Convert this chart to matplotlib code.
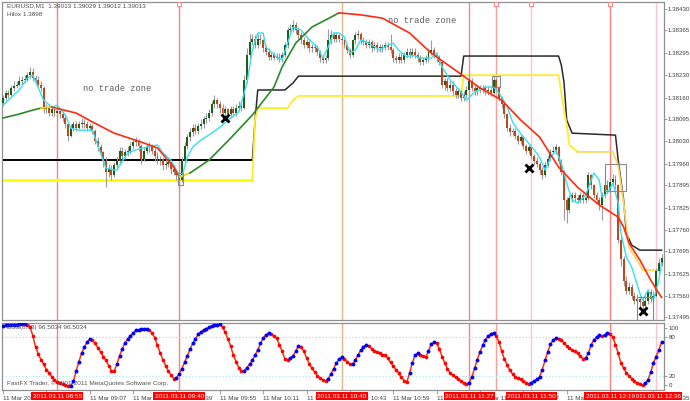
import numpy as np
import matplotlib
matplotlib.use("Agg")
import matplotlib.pyplot as plt
from matplotlib.patches import Rectangle

# ---------------- data (prices in pips above 1.3700, one bar per minute from 08:35) ----------------
PRICE_BASE = 1.37
FIRST_OPEN = 114.5
closes = [116, 117.5, 117, 119, 119.5, 120, 121, 121.5, 121.5, 123, 124, 122, 121.5, 120, 119, 112.5, 113, 111.5, 112.5, 111.5, 112,
          111, 110, 108, 104.5, 107, 108, 107, 108, 108.5, 108, 107, 107.5, 106, 103, 101, 99.5,
          97, 93.5, 94.5, 92.5, 95.5, 97, 100, 98.5, 99.5, 100, 101.5, 102.5, 102.5, 101.5, 97.5, 100, 101, 101, 100, 98.5,
          97, 97.5, 95.5, 96, 96.5, 94.5, 93.5, 92.5, 91,
          97, 101.5, 104, 105.5, 107, 106, 107.5, 108, 109.5, 110, 111.5, 114, 115.5, 114, 113, 111.5, 112.5, 111, 112.5, 111.5,
          113, 113.5, 113,
          121.5, 129, 133, 134, 132, 134, 133.5, 131, 130, 128.5, 129, 128, 128.5, 128, 129, 132, 136.5, 137, 138, 136.5,
          135, 133.5, 132, 133, 131, 131.5, 131, 130, 128, 127.5, 128, 133.5, 135, 134, 135, 134, 133.5,
          132, 130.5, 129, 133.5, 135, 135.5, 133.5, 133, 132, 133, 131, 132, 131, 131.5, 131, 132, 131.5, 130.5, 128, 127.5,
          128.5, 127.5, 129, 130, 129, 130, 129, 128, 127, 127.5, 128, 130, 130.5, 129, 128.5,
          127, 120, 121, 119, 120, 118, 117, 118, 116, 117, 118.5, 121, 119, 118, 119, 118.5, 119, 118, 118.5, 117.5,
          121.5, 119, 116, 114, 111,
          107, 105.5, 106, 104.5, 103, 104, 101.5, 100, 101, 98.5, 97, 96, 94, 92.5, 95.5, 97.5, 99.5, 100, 101, 97,
          93.5, 85, 82, 85.5, 86.5, 85.5, 85, 86.5, 85, 85.5, 92.5, 89.5, 86.5, 85, 83.5, 86.5, 89.5, 88,
          90.5, 91.5, 89.5, 73, 67, 60.5, 57.5, 58.5, 56, 54.5, 55, 54, 53, 54.5, 57, 55, 56, 63.5, 66, 67.5]
highs = [117, 118.5, 118.5, 120, 121, 121, 122.5, 122.5, 123, 124,
         125.5, 125, 123, 122.5, 121, 119.5, 114, 114, 113.5, 113,
         113, 113, 112, 111, 108.5, 108, 109, 109, 109, 110,
         109.5, 109, 108.5, 108, 106.5, 104, 102, 100, 98, 96,
         95.5, 96.5, 98.5, 101, 101, 100.5, 101.5, 102.5, 103.5, 104,
         103.5, 102, 101, 102, 102.5, 102, 101, 99.5, 98.5, 98,
         97.5, 97.5, 97, 95.5, 94.5, 93.5, 98, 102.5, 105, 107,
         108, 108, 108.5, 109.5, 110.5, 111.5, 112.5, 115, 117, 116,
         115, 114, 113.5, 113, 113.5, 113.5, 114, 115, 114.5, 123,
         131, 135.5, 135.5, 135, 135.5, 135.5, 134, 132, 131, 130,
         130, 129.5, 129.5, 130, 133, 137.5, 138.5, 139.5, 139, 137.5,
         136, 134.5, 134, 133.5, 132.5, 132.5, 132, 130.5, 129, 129,
         137, 136.5, 136, 136, 135.5, 135, 134, 132.5, 131, 134,
         136, 136.5, 136, 134.5, 134, 134, 133.5, 133, 133, 132.5,
         132.5, 133, 133, 135.5, 131, 129, 129.5, 129.5, 130, 131,
         131, 131, 131, 130, 129, 128.5, 129, 131, 133.5, 131.5,
         130, 129, 127.5, 122, 122, 121, 121, 119, 119, 118.5,
         118, 119.5, 123.5, 122, 120, 120, 120, 120, 120, 119.5,
         119, 122.5, 122, 119.5, 116.5, 114.5, 111.5, 108, 107, 107,
         105, 105, 104.5, 102, 102, 101.5, 99, 98, 96.5, 95,
         96.5, 98.5, 100.5, 101.5, 102, 101.5, 97.5, 94, 86, 86.5,
         87.5, 87.5, 86.5, 87.5, 87, 86.5, 93.5, 93, 90, 87.5,
         86, 87.5, 90.5, 91, 91.5, 93, 92.5, 90, 74, 68,
         62, 60, 59.5, 57, 56.5, 56, 55, 56, 58, 58,
         57.5, 64.5, 67.5, 68.5]
lows = [113.5, 115.5, 116, 116.5, 118, 119, 119.5, 120, 120.5, 121,
        122, 121, 120.5, 119, 118, 111.5, 111.5, 110.5, 110.5, 110.5,
        110.5, 110, 109, 107, 103, 104, 106, 106, 106.5, 107,
        107, 106, 106, 105, 102, 100, 98, 95, 89, 92,
        91, 92, 94.5, 96, 97.5, 97.5, 98.5, 99, 100.5, 101.5,
        100, 96, 97, 99, 99.5, 99, 97, 96, 95.5, 94,
        94.5, 95, 93, 92.5, 91, 88.5, 90.5, 96, 100.5, 103,
        104.5, 105, 105, 106.5, 107, 108.5, 109, 110.5, 113, 113,
        111.5, 110.5, 110, 110, 110, 110.5, 110.5, 112, 112, 112.5,
        120.5, 128, 132, 131, 131, 132.5, 130, 129, 127.5, 127.5,
        127.5, 127.5, 127, 127, 128.5, 131, 135.5, 136, 135.5, 134,
        132.5, 131, 131, 130, 130, 130, 129, 127, 126.5, 126.5,
        127.5, 132.5, 133, 133, 133, 132.5, 131, 129.5, 128, 128.5,
        132.5, 134, 132.5, 132, 131, 131, 130, 130.5, 130, 130,
        130, 130.5, 130.5, 129.5, 127, 126.5, 126.5, 126.5, 126.5, 128,
        128, 128.5, 128, 127, 126, 126, 126.5, 127, 129, 128,
        127, 126, 119, 118.5, 118, 118, 117, 116, 116, 115,
        115, 116, 117.5, 118, 117, 117, 117.5, 117.5, 117, 117,
        116.5, 117, 118, 115, 113, 110, 106, 104.5, 104.5, 103.5,
        102, 102, 100.5, 99, 99, 97.5, 96, 95, 93, 91.5,
        92, 95, 97, 99, 99, 96, 92.5, 79, 78, 81,
        84.5, 84.5, 84, 84, 84, 84, 85, 88.5, 85.5, 84,
        82, 79, 85.5, 87, 87.5, 89.5, 88.5, 72, 65, 59,
        56.5, 56.5, 55, 53.5, 53.5, 52.5, 50.5, 52.5, 53.5, 54,
        54, 55.5, 62.5, 65]
dss = [97, 98, 98, 99, 99, 99, 100, 100, 100, 99,
       95, 82, 65, 54, 45, 38, 30, 25, 19, 14,
       11, 9, 7, 6, 4, 5, 12, 28, 42, 55,
       64, 72, 77, 75, 71, 63, 57, 50, 44, 36,
       28, 27, 38, 51, 62, 71, 77, 82, 86, 90,
       91, 92, 92, 92, 90, 86, 79, 67, 55, 45,
       36, 28, 21, 16, 17, 23, 31, 41, 51, 61,
       70, 77, 84, 88, 91, 93, 95, 97, 98, 99,
       100, 95, 87, 77, 66, 52, 42, 33, 27, 28,
       33, 38, 44, 52, 60, 70, 78, 83, 86, 84,
       81, 78, 68, 58, 46, 45, 47, 51, 58, 66,
       65, 58, 48, 39, 32, 26, 20, 17, 14, 12,
       16, 23, 31, 40, 46, 49, 46, 42, 38, 39,
       44, 52, 60, 65, 68, 66, 62, 59, 57, 55,
       53, 52, 47, 41, 35, 30, 24, 18, 13, 11,
       24, 40, 52, 55, 53, 51, 49, 58, 69, 72,
       70, 62, 50, 40, 31, 25, 21, 18, 15, 12,
       9, 7, 10, 18, 32, 45, 57, 67, 76, 81,
       85, 86, 81, 73, 58, 46, 37, 29, 23, 19,
       17, 15, 12, 9, 8, 10, 12, 15, 19, 30,
       44, 57, 69, 75, 78, 77, 75, 71, 66, 63,
       60, 58, 55, 51, 46, 48, 55, 68, 75, 80,
       83, 81, 83, 86, 85, 80, 68, 55, 40, 32,
       25, 20, 16, 12, 9, 8, 6, 9, 14, 26,
       40, 50, 60, 72]

cyan_bar = [0, 6, 9, 11, 15, 18, 20, 23, 25, 28, 33, 36, 38, 41, 42, 46, 49, 53, 57, 59,
            62, 65, 66, 68, 70, 73, 77, 80, 84, 87, 90, 92, 94, 96, 97, 101, 103, 105, 107, 110,
            112, 116, 118, 120, 122, 124, 126, 128, 130, 132, 135, 139, 142, 144, 146, 149, 151, 154, 158, 160,
            162, 165, 169, 171, 174, 178, 181, 183, 186, 188, 190, 193, 196, 198, 200, 202, 204, 206, 208, 210,
            212, 215, 218, 220, 221, 223, 225, 227, 228, 230, 232, 235, 236, 238, 240, 242, 243]
cyan_pips = [113.8, 118.4, 122.0, 122.9, 115.3, 113.2, 113.8, 110.8, 106.8, 106.2, 106.2, 99.3, 94.7, 94.1, 94.1, 99.3, 100.2, 101.1, 101.7, 99.3,
             97.1, 92.6, 92.0, 98.0, 101.1, 103.2, 105.3, 107.1, 109.9, 111.7, 120.5, 130.5, 135.7, 135.7, 131.4, 128.4, 127.5, 132.6, 137.5, 136.6,
             134.5, 131.4, 128.1, 131.4, 135.7, 135.7, 134.5, 129.6, 130.5, 133.6, 132.6, 130.5, 132.0, 132.6, 130.5, 128.4, 129.0, 128.1, 128.1, 129.6,
             125.4, 121.4, 117.8, 115.3, 117.8, 119.3, 119.3, 117.5, 113.5, 108.7, 106.2, 103.2, 100.2, 98.0, 94.1, 97.7, 100.2, 96.2, 90.1, 85.0,
             84.1, 86.5, 93.2, 91.1, 85.9, 87.1, 90.1, 84.1, 75.0, 67.7, 64.6, 56.7, 54.6, 57.7, 54.6, 60.7, 65.9]

# slow MA, coloured by slope segment
ma_green1_bar = [0, 6, 11, 14];            ma_green1_pips = [109.9, 111.1, 112.3, 112.9]
ma_yel1_bar = [14, 18];                    ma_yel1_pips = [112.9, 113.2]
ma_red1_bar = [18, 27, 33, 41, 51, 57, 63, 65]
ma_red1_pips = [113.2, 111.4, 108.7, 105.3, 102.6, 100.8, 95.0, 92.0]
ma_yel2_bar = [65, 69];                    ma_yel2_pips = [92.0, 93.2]
ma_green2_bar = [69, 76, 84, 92, 100, 103, 108, 114, 121, 124]
ma_green2_pips = [93.2, 97.1, 103.8, 110.8, 119.3, 125.4, 132.6, 137.5, 140.5, 141.8]
ma_red2_bar = [124, 132, 140, 150, 158, 169, 176, 184, 191, 198, 205, 212, 220, 227, 229, 231, 235, 239, 242, 243]
ma_red2_pips = [141.8, 141.2, 140.2, 135.7, 129.6, 123.2, 119.0, 115.3, 109.3, 104.1, 95.0, 88.9, 83.5, 79.8, 76.8, 71.9, 66.8, 60.7, 56.7, 55.5]

black_bar = [0, 92, 93, 94, 104, 107, 109, 169, 170, 205, 206, 207, 208, 210, 226, 227, 229, 230, 232, 235, 243]
black_pips = [97.1, 97.1, 109.3, 118.4, 118.4, 120.5, 122.6, 122.6, 128.7, 128.7, 126.0, 120.8, 109.3, 105.3, 104.7, 97.1, 85.0, 75.0, 71.3, 69.8, 69.8]
yellow_bar = [0, 92, 93, 94, 105, 107, 109, 169, 170, 205, 207, 208, 209, 212, 225, 227, 229, 231, 234, 236, 243]
yellow_pips = [91.1, 91.1, 109.3, 112.9, 112.9, 115.3, 116.6, 116.6, 122.9, 122.9, 112.3, 107.8, 101.7, 99.6, 99.6, 95.6, 84.1, 70.7, 66.8, 63.7, 63.7]

xmark_bar = [82, 194, 236]
xmark_pips = [110.0, 94.7, 51.3]
box_bar0 = [64.5, 180.5, 222, 234]
box_bar1 = [66.5, 183.5, 230, 240]
box_lo = [89.6, 119.3, 87.7, 45.0]
box_hi = [93.2, 122.6, 95.9, 55.5]

vline_bars = [20, 65, 125, 172, 182, 195, 224, 241]
vline_colors = ['#ff8080', '#ff8080', '#e2b48c', '#ff8080', '#ff9c9c', '#ffc4d0', '#ff8080', '#ffc4d0']

price_ticks = [1.38430, 1.38365, 1.38295, 1.38230, 1.38160, 1.38095, 1.38030, 1.37960,
               1.37895, 1.37825, 1.37760, 1.37695, 1.37625, 1.37560, 1.37495]
time_tick_bars = [0, 16, 32, 48, 64, 80, 96, 112, 128, 144, 160, 176, 192, 208, 224, 240]
time_tick_labels = ['11 Mar 2011', '11 Mar 08:51', '11 Mar 09:07', '11 Mar 09:23', '11 Mar 09:39', '11 Mar 09:55',
                    '11 Mar 10:11', '11 Mar 10:27', '11 Mar 10:43', '11 Mar 10:59', '11 Mar 11:15', '11 Mar 11:31',
                    '11 Mar 11:47', '11 Mar 12:03', '11 Mar 12:19', '11 Mar 12:35']
date_box_bars = [20, 65, 125, 172, 195, 241, 224]
date_box_labels = ['2011.03.11 08:55', '2011.03.11 09:40', '2011.03.11 10:40', '2011.03.11 11:27',
                   '2011.03.11 11:50', '2011.03.11 12:36', '2011.03.11 12:19']

# ---------------- figure ----------------
W, H = 690, 401
fig = plt.figure(figsize=(W / 100, H / 100), dpi=100)
fig.patch.set_facecolor('white')


def px_rect(x0, y0, x1, y1):
    return [x0 / W, 1 - y1 / H, (x1 - x0) / W, (y1 - y0) / H]


ax = fig.add_axes(px_rect(2, 2, 664, 320))
ax2 = fig.add_axes(px_rect(2, 323, 664, 390))


def P(a):
    return PRICE_BASE + np.asarray(a, dtype=float) / 1e4


FONT = ['Liberation Sans', 'DejaVu Sans']
TXT = '#404040'
XL = (-0.37, 243.9)

for a in (ax, ax2):
    a.set_xlim(*XL)
    for s in a.spines.values():
        s.set_color('#909090')
        s.set_linewidth(0.9)
    for b, col in zip(vline_bars, vline_colors):
        a.axvline(b, color=col, lw=1.0, zorder=1)

ax.set_ylim(1.37486, 1.38451)

# step lines
ax.plot(black_bar[:2], P(black_pips[:2]), color='#000000', lw=1.4, zorder=2)
ax.plot(black_bar[1:], P(black_pips[1:]), color='#2a2a2a', lw=1.1, zorder=2)
ax.plot(yellow_bar[:2], P(yellow_pips[:2]), color='#ffff00', lw=2.2, zorder=2)
ax.plot(yellow_bar[1:14], P(yellow_pips[1:14]), color='#ffec2a', lw=1.3, zorder=2)
ax.plot(yellow_bar[13:], P(yellow_pips[13:]), color='#f8d860', lw=1.3, zorder=2)

# candles
c = np.array(closes, dtype=float)
o = np.r_[FIRST_OPEN, c[:-1]]
hi = np.array(highs, dtype=float)
lo = np.array(lows, dtype=float)
idx = np.arange(len(c))
ax.vlines(idx, P(lo), P(hi), color='#9c9c9c', lw=0.8, zorder=3)
up = c >= o
body_lo = np.minimum(o, c)
body_h = np.maximum(np.abs(c - o), 0.35) / 1e4
ax.bar(idx[up], body_h[up], bottom=P(body_lo[up]), width=0.72, color='#1d5e1d', zorder=4)
ax.bar(idx[~up], body_h[~up], bottom=P(body_lo[~up]), width=0.72, color='#c2461a', zorder=4)

# moving averages
ax.plot(cyan_bar, P(cyan_pips), color='#33e0f2', lw=1.0, zorder=5)
for bx, py, col in [(ma_green1_bar, ma_green1_pips, '#2a8a2a'), (ma_yel1_bar, ma_yel1_pips, '#e6d800'),
                    (ma_red1_bar, ma_red1_pips, '#ff2a10'), (ma_yel2_bar, ma_yel2_pips, '#e6d800'),
                    (ma_green2_bar, ma_green2_pips, '#2a8a2a'), (ma_red2_bar, ma_red2_pips, '#ff2a10')]:
    ax.plot(bx, P(py), color=col, lw=1.2, zorder=5)

# objects
for b0, b1, l0, h0 in zip(box_bar0, box_bar1, box_lo, box_hi):
    ax.add_patch(Rectangle((b0, P(l0)), b1 - b0, (h0 - l0) / 1e4, fill=False, ec='#8a8a8a', lw=0.8, zorder=6))
ax.plot(xmark_bar, P(xmark_pips), linestyle='none', marker='x', color='black', ms=5.5, mew=2.0, zorder=7)
for b in [65, 182, 195, 224]:
    ax.plot([b], [1.38444], marker='s', ms=2.6, mfc='white', mec='#ff8080', mew=0.7, zorder=7, clip_on=False)

ax.text(29.5, P(119.0), 'no trade zone', family=['Liberation Mono', 'DejaVu Sans Mono'], fontsize=6.3,
        color='#606060', va='center', ha='left', zorder=6)
ax.text(142.1, P(139.6), 'no trade zone', family=['Liberation Mono', 'DejaVu Sans Mono'], fontsize=6.3,
        color='#606060', va='center', ha='left', zorder=6)

ax.text(5 / 662, 1 - 4 / 318, 'EURUSD,M1  1.39013 1.39029 1.39012 1.39013', transform=ax.transAxes,
        family=FONT, fontsize=4.6, color='#505050', va='center', ha='left')
ax.text(5 / 662, 1 - 13 / 318, 'Hilox 1.3898', transform=ax.transAxes,
        family=FONT, fontsize=4.6, color='#505050', va='center', ha='left')

# axis formatting (main)
ax.set_xticks([])
ax.yaxis.tick_right()
ax.set_yticks(price_ticks)
ax.set_yticklabels(['%.5f' % v for v in price_ticks], family=FONT, fontsize=4.4, color=TXT)
ax.tick_params(axis='y', length=2, width=0.6, color='#909090', pad=0.6)

# ---------------- DSS panel ----------------
ax2.set_ylim(-1.5, 101.5)
d = np.array(dss, dtype=float)
rising = np.r_[True, d[1:] >= d[:-1]]
ax2.axhline(80, color='#c0c0f8', lw=0.8, ls=(0, (1, 2)), zorder=1)
ax2.axhline(20, color='#a6e4f0', lw=0.8, ls=(0, (1, 2)), zorder=1)
ax2.plot(idx, d, color='#ff3010', lw=1.1, zorder=3)
ax2.scatter(idx[~rising], d[~rising], s=7, color='#ff0000', zorder=4, linewidths=0)
ax2.scatter(idx[rising], d[rising], s=8, color='#0000ff', zorder=4, linewidths=0)

ax2.text(5 / 662, 1 - 5 / 67, 'DSS(8,13) 96.5034 96.5034', transform=ax2.transAxes,
         family=FONT, fontsize=4.6, color='#505050', va='center', ha='left', zorder=6)
ax2.text(5 / 662, 1 - 60 / 67, 'FastFX Trader, \u00a9 2001-2011 MetaQuotes Software Corp.', transform=ax2.transAxes,
         family=FONT, fontsize=4.6, color='#505050', va='center', ha='left', zorder=6)

ax2.yaxis.tick_right()
ax2.set_yticks([94, 80, 20, 6])
ax2.set_yticklabels(['100', '80', '20', '0'], family=FONT, fontsize=4.4, color=TXT)
ax2.tick_params(axis='y', length=2, width=0.6, color='#909090', pad=1.5)

ax2.set_xticks(time_tick_bars)
ax2.set_xticklabels(time_tick_labels, family=FONT, fontsize=4.5, color=TXT, ha='left')
ax2.tick_params(axis='x', length=3, width=0.6, color='#909090', pad=1.2)

for b, lab in zip(date_box_bars, date_box_labels):
    ax2.text(b, -0.09, lab, transform=ax2.get_xaxis_transform(), ha='center', va='center',
             family=FONT, fontsize=4.6, color='white', clip_on=False, zorder=10,
             bbox=dict(boxstyle='square,pad=0.2', fc='#ff0000', ec='none'))

fig.savefig('out.png', dpi=100, facecolor='white')
